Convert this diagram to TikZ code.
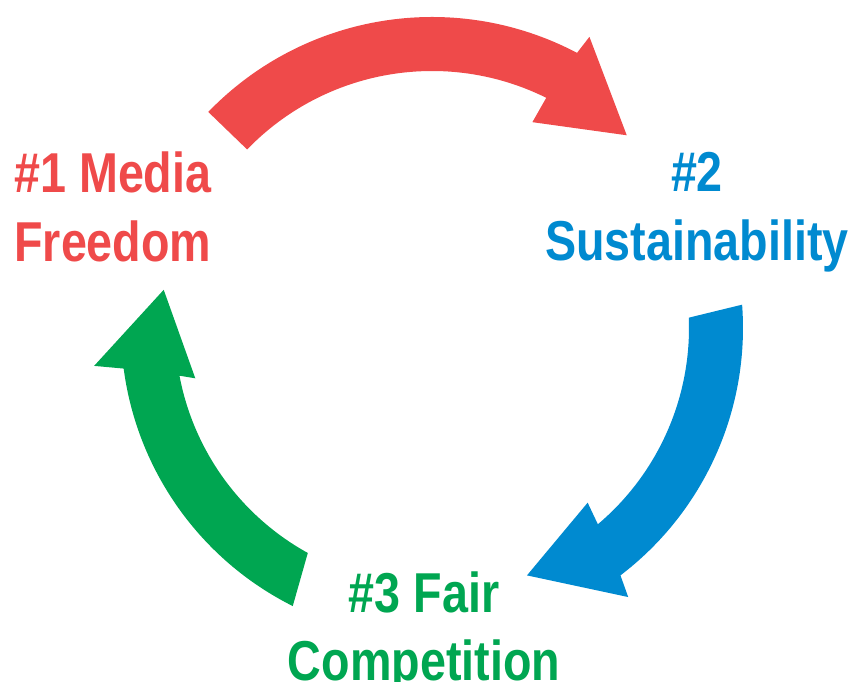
\documentclass[tikz,border=0pt]{standalone}
\usepackage{fontspec}
\newfontfamily\lblfont{Liberation Sans}[FakeStretch=0.83]
\usepackage{tikz}
\definecolor{cycred}{RGB}{239,74,74}
\definecolor{cycblue}{RGB}{0,138,208}
\definecolor{cycgreen}{RGB}{0,166,81}
\begin{document}
\begin{tikzpicture}[x=0.02cm, y=0.02cm,
lbl/.style={inner sep=0pt, font=\lblfont\bfseries\fontsize{32}{39}\selectfont},
band/.style={draw=none}]
\useasboundingbox (0,0) rectangle (853,682);
\begin{scope}[shift={(432,354)}]
\fill[band, cycred] (136:311) arc[start angle=136, end angle=62.2, radius=311] -- (61.6:331) -- (44.7:274) -- (64:229) -- (63.6:257) arc[start angle=63.6, end angle=136, radius=257] -- cycle;
\fill[band, cycblue] (4.3:311) arc[start angle=4.3, end angle=-52.7, radius=311] -- (-53.9:333) -- (-69:265) -- (-48.3:234) -- (-49.8:257) arc[start angle=-49.8, end angle=2.3, radius=257] -- cycle;
\fill[band, cycgreen] (-116.6:311) arc[start angle=-116.6, end angle=-172.5, radius=311] -- (-173.6:340) -- (-188.1:271) -- (-168:242) -- (-169.3:257) arc[start angle=-169.3, end angle=-118.9, radius=257] -- cycle;
\end{scope}
\node[lbl, cycred, align=left, anchor=west] (media) at (14,475) {\#1 Media\\Freedom};
\node[lbl, cycblue, align=center] (sustain) at (697,470) {\#2\\Sustainability};
\node[lbl, cycgreen, align=center] (fair) at (424,50) {\#3 Fair\\Competition};
\end{tikzpicture}
\end{document}
